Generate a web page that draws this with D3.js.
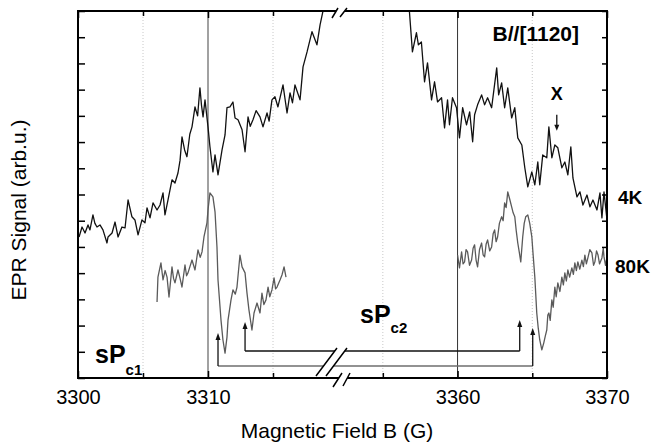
<!DOCTYPE html>
<html>
<head>
<meta charset="utf-8">
<script src="https://cdn.jsdelivr.net/npm/d3@7"></script>
<style>
body { margin: 0; background: #fff; }
text { font-family: "Liberation Sans", Arial, Helvetica, sans-serif; }
</style>
</head>
<body>
<div class="canvas"></div>
<script>
// axis ticks
const xMajor = [3300, 3310, 3360, 3370]
const xMinor = [3305, 3315, 3355, 3365]
const yTicks = [0, 1, 2, 3, 4, 5, 6, 7, 8, 9, 10, 11, 12, 13, 14]

// traces [field (G), signal (arb.u.)]
const trace4KLow = [[3300.08,5.38],[3300.31,5.76],[3300.54,5.53],[3300.77,5.84],[3300.92,5.65],[3301.15,6.22],[3301.3,5.9],[3301.46,5.76],[3301.69,5.84],[3301.92,5.65],[3302.23,5.15],[3302.31,5.38],[3302.62,5.53],[3302.85,5.95],[3303.08,5.38],[3303.38,5.76],[3303.62,5.73],[3303.85,6.79],[3304.15,6.15],[3304.38,6.03],[3304.62,5.46],[3304.92,6.03],[3305.15,5.92],[3305.31,6.49],[3305.54,6.11],[3305.77,6.68],[3306.08,6.41],[3306.31,6.60],[3306.54,7.06],[3306.69,6.22],[3306.92,6.79],[3307.23,7.56],[3307.46,7.44],[3307.69,7.82],[3307.85,8.3],[3308.00,9.20],[3308.2,8.7],[3308.38,8.44],[3308.6,9.3],[3308.77,9.58],[3309.00,10.34],[3309.2,10.0],[3309.38,11.07],[3309.5,10.4],[3309.62,9.96],[3309.77,10.61],[3310.00,9.58],[3310.15,8.82],[3310.38,7.86],[3310.54,8.51],[3310.77,7.75],[3311.08,8.70],[3311.31,9.27],[3311.46,10.31],[3311.69,10.34],[3311.92,10.53],[3312.08,9.92],[3312.31,9.85],[3312.62,9.47],[3312.85,8.63],[3313.08,9.96],[3313.25,9.6],[3313.46,9.85],[3313.7,10.2],[3314.00,9.96],[3314.23,9.58],[3314.54,10.11],[3314.7,9.8],[3314.92,10.61],[3315.15,10.73],[3315.38,10.34],[3315.77,11.18],[3316.08,10.11],[3316.31,10.88],[3316.5,10.5],[3316.69,11.18],[3317.08,10.61],[3317.31,11.87],[3317.62,12.44],[3318.00,13.21],[3318.38,12.71],[3318.62,13.47],[3318.85,14.01],[3319.1,14.4]]

const trace4KHigh = [[3356.58,14.35],[3356.78,13.97],[3356.98,12.44],[3357.25,13.17],[3357.38,12.71],[3357.58,12.82],[3357.79,11.30],[3357.99,12.02],[3358.26,10.61],[3358.46,11.30],[3358.66,10.53],[3358.93,10.69],[3359.13,9.54],[3359.33,10.61],[3359.46,9.66],[3359.66,10.69],[3359.93,10.31],[3360.13,9.16],[3360.34,10.31],[3360.60,9.66],[3360.81,10.15],[3361.01,9.01],[3361.14,10.04],[3361.34,10.42],[3361.61,10.80],[3361.81,10.42],[3362.01,10.69],[3362.28,10.31],[3362.62,11.83],[3362.75,10.80],[3362.95,11.26],[3363.15,10.31],[3363.36,11.07],[3363.62,9.92],[3363.83,10.31],[3364.03,9.16],[3364.30,8.89],[3364.50,8.02],[3364.70,7.29],[3364.97,7.86],[3365.17,7.37],[3365.37,8.24],[3365.50,7.37],[3365.70,8.51],[3365.97,8.40],[3366.11,9.58],[3366.31,8.40],[3366.51,8.89],[3366.71,8.78],[3366.98,8.02],[3367.18,8.24],[3367.38,7.75],[3367.58,8.82],[3367.72,7.63],[3367.99,6.91],[3368.19,7.10],[3368.39,6.60],[3368.66,6.98],[3368.86,6.53],[3369.06,6.79],[3369.33,6.41],[3369.53,7.06],[3369.66,6.11],[3369.80,7.10],[3370.00,6.03]]

const trace80KLow = [[3306.08,2.90],[3306.15,3.85],[3306.38,4.39],[3306.54,3.74],[3306.7,4.1],[3306.85,3.85],[3307.00,3.09],[3307.23,4.24],[3307.35,3.8],[3307.46,3.63],[3307.69,4.12],[3307.85,3.8],[3308.00,3.47],[3308.23,4.31],[3308.35,3.9],[3308.46,4.01],[3308.77,4.50],[3309.00,4.12],[3309.23,4.89],[3309.4,4.6],[3309.54,4.81],[3309.69,5.38],[3309.92,5.92],[3310.00,6.41],[3310.15,7.06],[3310.38,6.91],[3310.54,6.34],[3310.69,5.00],[3310.77,3.74],[3311.00,2.21],[3311.15,1.45],[3311.31,0.95],[3311.46,1.56],[3311.54,2.21],[3311.77,2.98],[3311.92,3.36],[3312.1,3.2],[3312.23,3.47],[3312.46,4.69],[3312.62,4.24],[3312.85,4.01],[3313.00,3.24],[3313.15,2.60],[3313.38,1.83],[3313.54,2.48],[3313.77,2.86],[3314.00,2.48],[3314.15,3.24],[3314.3,2.8],[3314.46,2.98],[3314.62,3.47],[3314.75,3.1],[3314.92,3.36],[3315.08,3.82],[3315.2,3.4],[3315.31,3.47],[3315.54,3.74],[3315.69,3.93],[3315.85,4.24],[3316.00,3.85]]

const trace80KHigh = [[3360.00,4.69],[3360.13,4.2],[3360.27,4.81],[3360.37,4.35],[3360.47,4.43],[3360.57,4.9],[3360.67,4.81],[3360.8,4.3],[3360.94,4.5],[3361.04,4.95],[3361.14,5.08],[3361.24,4.5],[3361.34,4.24],[3361.47,4.9],[3361.61,5.15],[3361.71,4.7],[3361.81,4.62],[3361.91,5.1],[3362.01,5.27],[3362.15,4.85],[3362.28,5.0],[3362.38,5.5],[3362.48,5.65],[3362.58,5.2],[3362.68,5.38],[3362.8,5.9],[3362.95,6.15],[3363.05,6.0],[3363.15,6.68],[3363.25,6.5],[3363.36,7.10],[3363.5,6.8],[3363.62,6.53],[3363.72,6.3],[3363.83,6.15],[3363.93,5.6],[3364.03,5.15],[3364.13,4.8],[3364.23,4.43],[3364.36,5.38],[3364.46,5.9],[3364.56,6.15],[3364.70,6.22],[3364.83,5.9],[3364.97,5.38],[3365.07,4.6],[3365.17,3.85],[3365.30,2.48],[3365.40,1.9],[3365.50,1.45],[3365.64,1.07],[3365.77,1.34],[3365.87,1.6],[3365.97,1.83],[3366.04,2.4],[3366.11,2.48],[3366.2,2.2],[3366.31,2.98],[3366.4,2.7],[3366.51,3.47],[3366.6,3.1],[3366.71,3.63],[3366.85,3.3],[3366.98,3.85],[3367.08,3.55],[3367.18,4.01],[3367.28,3.7],[3367.38,4.12],[3367.5,3.85],[3367.65,4.20],[3367.75,3.95],[3367.85,4.39],[3367.95,4.1],[3368.05,4.43],[3368.18,4.15],[3368.32,4.50],[3368.42,4.25],[3368.52,4.69],[3368.62,4.35],[3368.72,4.58],[3368.85,4.9],[3368.99,4.77],[3369.1,4.3],[3369.19,4.43],[3369.3,4.85],[3369.40,4.69],[3369.5,4.35],[3369.66,4.58],[3369.75,4.95],[3369.80,4.62],[3369.9,4.3],[3370.00,4.6]]

// sPc brackets: arrow fields, arrow tip heights, bracket level
const outerField = [3310.77, 3365.03]
const outerTip = [1.72, 1.91]
const outerLevel = 0.46
const innerField = [3312.85, 3364.16]
const innerTip = [2.14, 2.21]
const innerLevel = 1.03
// X marker arrow: field, from, to
const markX = [3366.64, 10.04, 9.43]

const svg = d3.select(".canvas")
    .append("svg")
    .attr("width", 651)
    .attr("height", 444)

const margin = { top: 11, right: 44, bottom: 66, left: 78 }
const graphWidth = 651 - margin.left - margin.right
const graphHeight = 444 - margin.top - margin.bottom
const graph = svg.append("g")
    .attr("transform", `translate(${margin.left}, ${margin.top})`)

// broken axis: 3300-3320 then 3352-3370
const scaleX = d3.scaleLinear()
    .domain([3300, 3320, 3352, 3370])
    .range([0, 260, 260, graphWidth])
const scaleY = d3.scaleLinear()
    .domain([0, 14])
    .range([graphHeight, 0])
const bx = scaleX(3320)

svg.append("defs").append("clipPath").attr("id", "plot")
    .append("rect").attr("width", graphWidth).attr("height", graphHeight)

// grid lines
graph.selectAll(".minor").data(xMinor).enter().append("line")
    .attr("x1", d => scaleX(d)).attr("x2", d => scaleX(d))
    .attr("y1", 0).attr("y2", graphHeight)
    .attr("stroke", "#c8c8c8").attr("stroke-dasharray", "1,2")
graph.append("line")
    .attr("x1", scaleX(3310)).attr("x2", scaleX(3310))
    .attr("y1", 0).attr("y2", graphHeight)
    .attr("stroke", "#8a8a8a").attr("stroke-width", 1.6)
graph.append("line")
    .attr("x1", scaleX(3360)).attr("x2", scaleX(3360))
    .attr("y1", 0).attr("y2", graphHeight)
    .attr("stroke", "#333").attr("stroke-width", 1)

const line = d3.line()
    .x(d => scaleX(d[0]))
    .y(d => scaleY(d[1]))

const traces = graph.append("g").attr("clip-path", "url(#plot)")
const series = [
    { data: trace4KLow, color: "#111" },
    { data: trace4KHigh, color: "#111" },
    { data: trace80KLow, color: "#5a5a5a" },
    { data: trace80KHigh, color: "#5a5a5a" }
]
series.forEach(s => {
    traces.append("path")
        .attr("d", line(s.data))
        .attr("fill", "none")
        .attr("stroke", s.color)
        .attr("stroke-width", 1.3)
        .attr("stroke-linejoin", "round")
})

// frame
graph.append("rect")
    .attr("width", graphWidth).attr("height", graphHeight)
    .attr("fill", "none").attr("stroke", "#000").attr("stroke-width", 2)

// ticks
const tickStyle = g => {
    g.select(".domain").remove()
    g.selectAll("line").attr("stroke", "#000").attr("stroke-width", 1.5)
}
graph.append("g")
    .attr("transform", `translate(0, ${graphHeight})`)
    .call(d3.axisBottom(scaleX).tickValues(xMajor).tickSize(-7).tickPadding(12).tickFormat(d3.format("d")))
    .call(tickStyle)
    .attr("font-size", 20).attr("font-family", null)
    .selectAll("text").attr("fill", "#000")
graph.append("g")
    .attr("transform", `translate(0, ${graphHeight})`)
    .call(d3.axisBottom(scaleX).tickValues(xMinor).tickSize(-5).tickFormat(""))
    .call(tickStyle)
graph.append("g")
    .call(d3.axisTop(scaleX).tickValues(xMajor).tickSize(-7).tickFormat(""))
    .call(tickStyle)
graph.append("g")
    .call(d3.axisTop(scaleX).tickValues(xMinor).tickSize(-5).tickFormat(""))
    .call(tickStyle)
graph.append("g")
    .call(d3.axisLeft(scaleY).tickValues(yTicks).tickSize(-7).tickFormat(""))
    .call(tickStyle)
graph.append("g")
    .attr("transform", `translate(${graphWidth}, 0)`)
    .call(d3.axisRight(scaleY).tickValues(yTicks).tickSize(-5).tickFormat(""))
    .call(tickStyle)

// brackets with arrows
const arrow = (f, tip, level, color) => {
    const x = scaleX(f), y0 = scaleY(level), y1 = scaleY(tip)
    graph.append("line").attr("x1", x).attr("x2", x).attr("y1", y0).attr("y2", y1 + 5)
        .attr("stroke", color).attr("stroke-width", 1.3)
    graph.append("path").attr("d", `M${x},${y1} L${x - 2.5},${y1 + 7} L${x + 2.5},${y1 + 7} Z`)
        .attr("fill", color)
}
graph.append("line")
    .attr("x1", scaleX(outerField[0])).attr("x2", scaleX(outerField[1]))
    .attr("y1", scaleY(outerLevel)).attr("y2", scaleY(outerLevel))
    .attr("stroke", "#6e6e6e").attr("stroke-width", 1.6)
graph.append("line")
    .attr("x1", scaleX(innerField[0])).attr("x2", scaleX(innerField[1]))
    .attr("y1", scaleY(innerLevel)).attr("y2", scaleY(innerLevel))
    .attr("stroke", "#111").attr("stroke-width", 1.3)
outerField.forEach((f, i) => arrow(f, outerTip[i], outerLevel, "#111"))
innerField.forEach((f, i) => arrow(f, innerTip[i], innerLevel, "#111"))

// X marker
graph.append("line")
    .attr("x1", scaleX(markX[0])).attr("x2", scaleX(markX[0]))
    .attr("y1", scaleY(markX[1])).attr("y2", scaleY(markX[2]) - 4)
    .attr("stroke", "#111").attr("stroke-width", 1.3)
graph.append("path")
    .attr("d", `M${scaleX(markX[0])},${scaleY(markX[2])} l-2.5,-6 l5,0 Z`)
    .attr("fill", "#111")

// break marks
const breakMark = (pts) => {
    graph.append("path")
        .attr("d", `M${pts[0]} L${pts[1]} L${pts[3]} L${pts[2]} Z`)
        .attr("fill", "#fff")
    graph.append("path")
        .attr("d", `M${pts[0]} L${pts[1]} M${pts[2]} L${pts[3]}`)
        .attr("stroke", "#000").attr("stroke-width", 1.5)
}
breakMark([[bx - 6, 7], [bx, -3], [bx + 2, 6], [bx + 9, -3]])
breakMark([[bx - 5, graphHeight + 9], [bx + 4, graphHeight - 5], [bx + 5, graphHeight + 8], [bx + 12, graphHeight - 5]])
breakMark([[bx - 22, graphHeight - 2], [bx - 1, graphHeight - 30], [bx - 12, graphHeight - 2], [bx + 9, graphHeight - 30]])

// labels
graph.append("text")
    .attr("x", 259).attr("y", graphHeight + 60)
    .attr("text-anchor", "middle").attr("font-size", 21)
    .text("Magnetic Field B (G)")
svg.append("text")
    .attr("transform", "translate(26, 210) rotate(-90)")
    .attr("text-anchor", "middle").attr("font-size", 21)
    .text("EPR Signal (arb.u.)")

const bold = (x, y, size, str) => graph.append("text")
    .attr("x", x).attr("y", y).attr("font-size", size).attr("font-weight", "bold").text(str)
bold(graphWidth - 28, 30, 21, "B//[1120]").attr("text-anchor", "end")
bold(scaleX(markX[0]), 89, 18, "X").attr("text-anchor", "middle")
bold(graphWidth + 11, 193, 19, "4K")
bold(graphWidth + 8, 262, 19, "80K")

const sp1 = bold(17, 352, 25, "sP")
sp1.append("tspan").attr("font-size", 15).attr("dy", 12).text("c1")
const sp2 = bold(282, 312, 25, "sP")
sp2.append("tspan").attr("font-size", 15).attr("dy", 10).text("c2")
</script>
</body>
</html>
